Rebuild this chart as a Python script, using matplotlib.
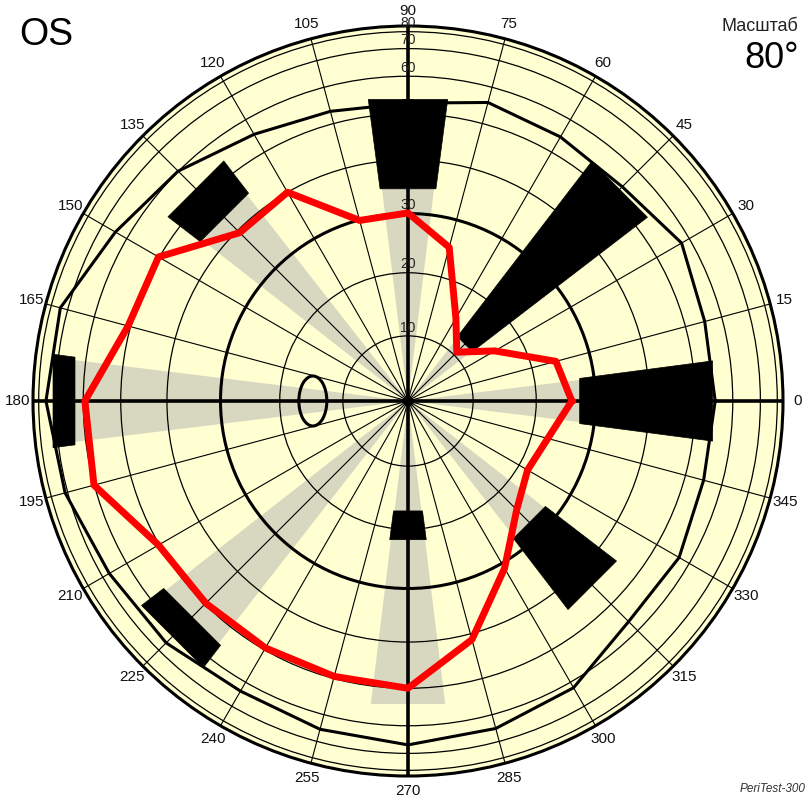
import numpy as np
import matplotlib.pyplot as plt
from matplotlib.patches import Polygon, Ellipse, Circle

plt.rcParams['font.family'] = ['Liberation Sans', 'DejaVu Sans']

# meridians of the kinetic test, degrees
meridians = list(range(0, 360, 15))

# measured isopter (red), eccentricity in degrees for each meridian
red_ecc = [25.9, 24.1, 15.5, 10.6, 14.8, 25.1, 30.1, 29.9, 40.0, 39.4, 50.2, 50.6,
           59.5, 60.1, 50.2, 49.7, 49.5, 49.5, 50.0, 41.2, 31.0, 24.2, 21.6, 22.7]

# normal isopter (black)
norm_ecc = [55.0, 55.0, 57.4, 53.9, 54.4, 55.5, 52.6, 53.1, 55.2, 60.1, 64.3, 73.7,
            74.9, 71.2, 66.9, 65.8, 63.3, 65.0, 66.5, 64.7, 62.0, 56.3, 56.6, 54.7]

# defect blocks: meridian, inner and outer eccentricity
block_mer = [0, 45, 90, 135, 180, 225, 270, 315]
block_in = [27.5, 12.5, 34.8, 44.3, 63.6, 55.2, 17.2, 27.5]
block_out = [55.0, 53.6, 54.2, 53.8, 72.7, 63.6, 21.9, 44.5]

# shaded stimulus tracks: meridian and outer eccentricity
track_mer = [0, 45, 90, 135, 180, 225, 270, 315]
track_out = [27.5, 12.5, 34.8, 44.3, 63.6, 55.2, 54.5, 27.5]

# blind spot
blind_mer = 180
blind_ecc = 14.7

ecc_rings = [10, 20, 30, 40, 50, 60, 70, 80, 90]
ecc_labels = [10, 20, 30, 40, 50, 60, 70, 80]

HALF = 7.5  # half width of a meridian sector


def proj(mer, ecc):
    # orthographic (sine) projection of the visual field
    r = np.sin(np.radians(ecc))
    a = np.radians(mer)
    return r * np.cos(a), r * np.sin(a)


def pix(x, y):
    return (x - 408) / 375, (401 - y) / 375


fig = plt.figure(figsize=(8.12, 7.99), dpi=100)
ax = fig.add_axes([0, 0, 1, 1])
ax.set_xlim(-408 / 375, 404 / 375)
ax.set_ylim(-398 / 375, 401 / 375)
ax.axis('off')

ax.add_patch(Circle((0, 0), 1, fc='#FFFFD2', ec='none', zorder=0))

# stimulus tracks
for m, e in zip(track_mer, track_out):
    pts = [(0, 0), proj(m - 7, e), proj(m + 7, e)]
    ax.add_patch(Polygon(pts, closed=True, fc='#D8D8C0', ec='none', zorder=1))

# eccentricity rings
for e in ecc_rings:
    lw = 2.2 if e in (30, 90) else 0.9
    ax.add_patch(Circle((0, 0), np.sin(np.radians(e)), fill=False, ec='black',
                        lw=lw, zorder=2))

# meridian lines
for m in meridians:
    x, y = proj(m, 90)
    lw = 2.6 if m % 90 == 0 else 0.8
    ax.plot([0, x], [0, y], color='black', lw=lw, zorder=2, solid_capstyle='butt')

for e in ecc_labels:
    ax.text(0, np.sin(np.radians(e)) + 0.022, str(e), ha='center', va='center',
            fontsize=10, color='#222222', zorder=3)

# meridian labels
for m in meridians:
    a = np.radians(m)
    ax.text(1.04 * np.cos(a), 1.04 * np.sin(a), str(m), ha='center', va='center',
            fontsize=11, color='#111111')

# normal isopter
xs, ys = proj(np.array(meridians + [0]), np.array(norm_ecc + [norm_ecc[0]]))
ax.plot(xs, ys, color='black', lw=2.2, zorder=4)

# blind spot
bx, by = proj(blind_mer, blind_ecc)
ax.add_patch(Ellipse((bx, by), 28 / 375, 50 / 375, fill=False, ec='black',
                     lw=2.2, zorder=4))

# defect blocks
for m, e0, e1 in zip(block_mer, block_in, block_out):
    pts = [proj(m - HALF, e0), proj(m - HALF, e1), proj(m + HALF, e1), proj(m + HALF, e0)]
    ax.add_patch(Polygon(pts, closed=True, fc='black', ec='black', lw=0.5, zorder=5))

# measured isopter
xs, ys = proj(np.array(meridians + [0]), np.array(red_ecc + [red_ecc[0]]))
ax.plot(xs, ys, color='#FF0000', lw=5, zorder=6, solid_joinstyle='round')

ax.plot([0], [0], marker='D', color='black', ms=6, zorder=7)

ax.text(*pix(19, 45), 'OS', fontsize=27, ha='left', va='baseline')
ax.text(*pix(798, 31), 'Масштаб', fontsize=13, ha='right', va='baseline', color='#222222')
ax.text(*pix(799, 68), '80°', fontsize=26, ha='right', va='baseline')
ax.text(*pix(740, 792), 'PeriTest-300', fontsize=8.5, style='italic', ha='left',
        va='baseline', color='#333333')

fig.savefig('out.png', dpi=100, facecolor='white')
